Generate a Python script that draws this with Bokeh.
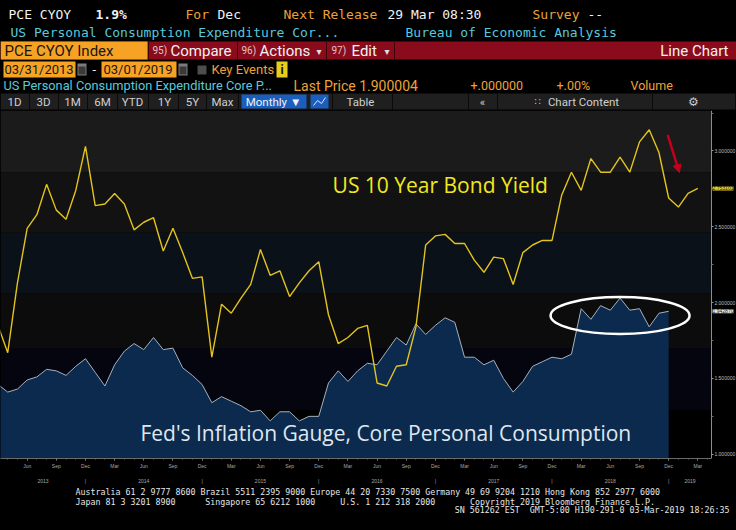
from bokeh.plotting import figure
from bokeh.layouts import column
from bokeh.models import (Range1d, FixedTicker, LinearAxis, Label, BoxAnnotation,
                          Arrow, NormalHead, PrintfTickFormatter)
from bokeh.core.properties import value
from bokeh.embed import file_html
from bokeh.resources import INLINE

# ---------------- data (monthly, index 0 = end of Mar 2013) ----------------
yield_10y = [1.85, 1.67, 2.13, 2.49, 2.58, 2.78, 2.61, 2.55, 2.74, 3.03,              # 2013 Mar-Dec
             2.64, 2.65, 2.72, 2.65, 2.48, 2.53, 2.56, 2.34, 2.49, 2.33, 2.16, 2.17,  # 2014
             1.64, 1.99, 1.93, 2.03, 2.12, 2.35, 2.18, 2.21, 2.04, 2.13, 2.21, 2.27,  # 2015
             1.92, 1.73, 1.77, 1.83, 1.85, 1.47, 1.45, 1.58, 1.59, 1.84, 2.38, 2.44,  # 2016
             2.45, 2.39, 2.39, 2.28, 2.20, 2.30, 2.29, 2.12, 2.33, 2.38, 2.41, 2.41,  # 2017
             2.71, 2.86, 2.74, 2.95, 2.86, 2.86, 2.96, 2.86, 3.06, 3.14, 2.99, 2.69,  # 2018
             2.63, 2.72, 2.753101]                                                    # 2019 Jan, Feb, Mar 1
core_pce = [1.46, 1.41, 1.43, 1.49, 1.51, 1.56, 1.55, 1.52, 1.58, 1.63,               # 2013 Mar-Dec
            1.54, 1.45, 1.59, 1.68, 1.73, 1.69, 1.77, 1.69, 1.70, 1.57, 1.52, 1.46,   # 2014
            1.34, 1.38, 1.35, 1.32, 1.28, 1.29, 1.22, 1.28, 1.28, 1.22, 1.25, 1.25,   # 2015
            1.47, 1.55, 1.48, 1.55, 1.60, 1.59, 1.68, 1.77, 1.72, 1.86, 1.79, 1.85,   # 2016
            1.90, 1.87, 1.64, 1.64, 1.59, 1.62, 1.50, 1.41, 1.48, 1.58, 1.61, 1.64,   # 2017
            1.63, 1.66, 1.96, 1.89, 1.98, 1.95, 2.03, 1.95, 1.96, 1.84, 1.93, 1.942870]  # 2018
quarter_names = ["Mar", "Jun", "Sep", "Dec"]
year_names = ["2013", "2014", "2015", "2016", "2017", "2018", "2019"]
y_ticks = [1.0, 1.5, 2.0, 2.5, 3.0]

yield_x = list(range(len(yield_10y)))
pce_x = list(range(len(core_pce)))

# ---------------- styling constants ----------------
W = 736
X_LO, X_AX, X_HI = 0.257, 73.4, 75.98   # frame start, value-axis position, canvas edge
Y_LO, Y_HI = 0.972, 3.267
MONO = value("DejaVu Sans Mono")
SANS = value("Roboto")
ORANGE = "#eca23a"
CYAN = "#58c8dc"
WHITE = "#f2f2f2"
NB = "\u00a0"


def panel(h, y0, y1):
    f = figure(width=W, height=h, x_range=Range1d(0, 736), y_range=Range1d(y1, y0),
               x_axis_location=None, y_axis_location=None, output_backend="svg",
               toolbar_location=None, min_border=0, background_fill_color="black",
               border_fill_color="black", outline_line_color=None)
    f.grid.visible = False
    return f


def txt(f, x, y, s, color, size, font=MONO, align="left", style="normal"):
    f.text(x=[x], y=[y], text=[s], text_color=color, text_font_size=f"{size}px",
           text_font=font, text_align=align, text_baseline="middle", text_font_style=style)


def box(f, l, r, t, b, c):
    f.quad(left=[l], right=[r], top=[t], bottom=[b], fill_color=c, line_color=None)


def vline(f, x, t, b, c):
    f.segment(x0=[x], y0=[t], x1=[x], y1=[b], line_color=c, line_width=1)

# ---------------- header ----------------
hd = panel(110, 0, 110)
# row 1
txt(hd, 8, 14, "PCE CYOY", WHITE, 13)
txt(hd, 95, 14, "1.9%", WHITE, 13, style="bold")
txt(hd, 185, 14, "For", ORANGE, 13)
txt(hd, 217, 14, "Dec", WHITE, 13)
txt(hd, 283, 14, "Next Release", ORANGE, 13)
txt(hd, 387, 14, "29 Mar 08:30", WHITE, 13)
txt(hd, 532, 14, "Survey", ORANGE, 13)
txt(hd, 587, 14, "--", WHITE, 13)
# row 2
txt(hd, 10, 32, "US Personal Consumption Expenditure Cor...", CYAN, 13)
txt(hd, 405, 32, "Bureau of Economic Analysis", CYAN, 13)
# row 3 (red bar)
box(hd, 0, 736, 41, 59, "#8a0b1b")
box(hd, 0, 147, 41, 59, "#f6a325")
for xs in (148, 237, 326, 394):
    vline(hd, xs, 41, 59, "#3a0309")
txt(hd, 4, 50, "PCE CYOY Index", "#161616", 15, SANS)
txt(hd, 152, 50, "95)", "#e2c4c4", 10, SANS)
txt(hd, 170, 50, "Compare", WHITE, 15, SANS)
txt(hd, 241, 50, "96)", "#e2c4c4", 10, SANS)
txt(hd, 259, 50, "Actions", WHITE, 15, SANS)
txt(hd, 316, 51, "\u25BE", "#e0e0e0", 10, value("DejaVu Sans"))
txt(hd, 331, 50, "97)", "#e2c4c4", 10, SANS)
txt(hd, 351, 50, "Edit", WHITE, 15, SANS)
txt(hd, 384, 51, "\u25BE", "#e0e0e0", 10, value("DejaVu Sans"))
txt(hd, 728, 50, "Line Chart", WHITE, 15, SANS, align="right")
# row 4 (dates)
box(hd, 3, 75, 61, 77, "#f6a325")
box(hd, 101, 176, 61, 77, "#f6a325")
txt(hd, 4, 69, "03/31/2013", "#161616", 13, SANS)
txt(hd, 103, 69, "03/01/2019", "#161616", 13, SANS)
box(hd, 77, 86, 63, 75, "#7c7c7c")
box(hd, 78, 85, 66, 74, "#3a3a3a")
box(hd, 178, 187, 63, 75, "#7c7c7c")
box(hd, 179, 186, 66, 74, "#3a3a3a")
txt(hd, 92, 69, "-", WHITE, 13, SANS)
box(hd, 197, 206, 65, 74, "#4d4d4d")
txt(hd, 211, 69, "Key Events", ORANGE, 13, SANS)
box(hd, 276, 287, 61, 77, "#e6cd1e")
txt(hd, 281.5, 69, "i", "#111111", 12, SANS, align="center", style="bold")
# row 5
txt(hd, 3, 85, "US Personal Consumption Expenditure Core P...", CYAN, 12.8, SANS)
txt(hd, 293, 85, "Last Price 1.900004", ORANGE, 14, SANS)
txt(hd, 470, 85, "+.000000", ORANGE, 12.5, SANS)
txt(hd, 556, 85, "+.00%", ORANGE, 12.5, SANS)
txt(hd, 630, 85, "Volume", ORANGE, 12.5, SANS)
# row 6 (toolbar)
box(hd, 0, 736, 93, 109, "#1f1f1f")
for xs in (29, 58, 87, 117, 148, 178, 206, 238, 332, 392, 468, 497, 652, 735):
    vline(hd, xs, 93, 109, "#0a0a0a")
for cx, s in ((14, "1D"), (43, "3D"), (72, "1M"), (102, "6M"), (132, "YTD"),
              (164, "1Y"), (192, "5Y"), (222, "Max"), (360, "Table"), (482, "\u00AB")):
    txt(hd, cx, 101, s, "#cfcfcf", 11.5, SANS, align="center")
box(hd, 241, 306, 94, 108, "#1a5fbd")
txt(hd, 273, 101, "Monthly \u25BC", WHITE, 11.5, SANS, align="center")
box(hd, 310, 328, 94, 108, "#1a5fbd")
hd.line(x=[313, 317, 321, 325], y=[105, 100, 103, 97], line_color="#dfe8ff", line_width=1)
txt(hd, 537, 101, "\u2237", "#bdbdbd", 10, value("DejaVu Sans"), align="center")
txt(hd, 583, 101, "Chart Content", "#cfcfcf", 11.5, SANS, align="center")
txt(hd, 693, 101, "\u2699", "#c8c8c8", 12, value("DejaVu Sans"), align="center")

# ---------------- main chart ----------------
p = figure(width=W, height=376, x_range=Range1d(X_LO, X_HI), y_range=Range1d(Y_LO, Y_HI),
           y_axis_location=None, output_backend="svg", toolbar_location=None,
           min_border_left=0, min_border_top=0, min_border_right=0, min_border_bottom=18,
           background_fill_color="black", border_fill_color="black", outline_line_color=None)
p.grid.visible = False

band_edges = [Y_HI, 2.86, 2.46, 2.06, 1.70, 1.29, Y_LO]
band_colors = ["#1b1b1b", "#121212", "#0b1118", "#0c0c0c", "#04050e", "#000000"]
for top, bot, c in zip(band_edges[:-1], band_edges[1:], band_colors):
    p.add_layout(BoxAnnotation(top=top, bottom=bot, right=X_AX, fill_color=c, fill_alpha=1,
                               line_color=None, level="underlay"))

p.varea(x=pce_x, y1=[Y_LO - 0.1] * len(core_pce), y2=core_pce, fill_color="#0b2a4e")
p.line(pce_x, core_pce, line_color="#a7b1bd", line_width=1)
p.line(yield_x, yield_10y, line_color="#e3c31e", line_width=1.4)

p.add_layout(Label(x=45.5, y=2.774, text="US 10 Year Bond Yield", text_font="Open Sans",
                   text_font_size="21px", text_color="#f1e71d", text_align="center",
                   text_baseline="middle"))
p.add_layout(Label(x=39.9, y=1.139, text="Fed's Inflation Gauge, Core Personal Consumption",
                   text_font="Open Sans", text_font_size="21px", text_color="#dfe7ef",
                   text_align="center", text_baseline="middle"))
p.ellipse(x=[64.0], y=[1.915], width=14.3, height=0.244, fill_color=None,
          line_color="white", line_width=2.5)
p.add_layout(Arrow(end=NormalHead(size=8, fill_color="#c4001c", line_color="#c4001c"),
                   x_start=68.9, y_start=3.107, x_end=70.1, y_end=2.857,
                   line_color="#c4001c", line_width=2.5))

# right value axis (drawn at a fixed location so the frame can reach the page edge)
ya = LinearAxis(fixed_location=X_AX,
                ticker=FixedTicker(ticks=y_ticks, minor_ticks=[t + 0.25 for t in y_ticks]),
                formatter=PrintfTickFormatter(format="%.6f"))
ya.axis_line_color = "#8c8c8c"
ya.major_tick_line_color = "#9a9a9a"
ya.minor_tick_line_color = "#6a6a6a"
ya.major_tick_in = 0
ya.major_tick_out = 2
ya.minor_tick_in = 0
ya.minor_tick_out = 2
ya.major_label_standoff = 1
ya.major_label_text_font_size = "5px"
ya.major_label_text_color = "#bdbdbd"
p.add_layout(ya, "right")

# last-value tags
p.add_layout(Label(x=X_AX + 0.12, y=yield_10y[-1], text=f"{yield_10y[-1]:.6f}",
                   text_font_size="5px", text_color="#202020", text_align="left",
                   text_baseline="middle", background_fill_color="#e6cd1e"))
p.add_layout(Label(x=X_AX + 0.12, y=core_pce[-1], text=f"{core_pce[-1]:.6f}",
                   text_font_size="5px", text_color="#202020", text_align="left",
                   text_baseline="middle", background_fill_color="#e8e8e8"))

# month axis
quarter_ticks = list(range(3, len(yield_10y), 3))
xa = p.xaxis[0]
xa.bounds = (X_LO, X_AX)
xa.ticker = FixedTicker(ticks=quarter_ticks, minor_ticks=list(range(1, len(yield_10y) + 1)))
xa.major_label_overrides = {t: quarter_names[(t // 3) % 4] for t in quarter_ticks}
xa.axis_line_color = "#6a6a6a"
xa.major_tick_line_color = "#8a8a8a"
xa.minor_tick_line_color = "#6a6a6a"
xa.major_tick_in = 0
xa.major_tick_out = 2
xa.minor_tick_in = 0
xa.minor_tick_out = 1
xa.major_label_standoff = 2
xa.major_label_text_font_size = "5px"
xa.major_label_text_color = "#a8a8a8"

# year axis
year_bounds = [t for t in quarter_ticks if (t // 3) % 4 == 3]
edges = [X_LO] + year_bounds + [X_AX]
year_centers = [(a + b) / 2 for a, b in zip(edges[:-1], edges[1:])]
year_over = {c: n for c, n in zip(year_centers, year_names)}
year_over.update({b: "|" for b in year_bounds})
yr = LinearAxis(ticker=FixedTicker(ticks=year_centers + year_bounds),
                major_label_overrides=year_over, axis_line_color=None,
                major_tick_line_color=None, minor_tick_line_color=None,
                major_label_standoff=0, major_label_text_font_size="5px",
                major_label_text_color="#a8a8a8")
p.add_layout(yr, "below")

# ---------------- footer ----------------
ft = panel(44, 486, 530)
FOOT = 8.3
txt(ft, 75, 491, "Australia 61 2 9777 8600 Brazil 5511 2395 9000 Europe 44 20 7330 7500 "
                 "Germany 49 69 9204 1210 Hong Kong 852 2977 6000", "#e6e6e6", FOOT)
txt(ft, 75, 501, ("Japan 81 3 3201 8900" + NB * 6 + "Singapore 65 6212 1000" + NB * 5 +
                  "U.S. 1 212 318 2000" + NB * 7 + "Copyright 2019 Bloomberg Finance L.P."),
    "#e6e6e6", FOOT)
txt(ft, 729, 509, "SN 561262 EST" + NB * 2 + "GMT-5:00 H190-291-0 03-Mar-2019 18:26:35",
    "#e6e6e6", FOOT, align="right")

layout = column(hd, p, ft, spacing=0, styles={"background-color": "black"})
open("out.html", "w").write(file_html(layout, INLINE))
